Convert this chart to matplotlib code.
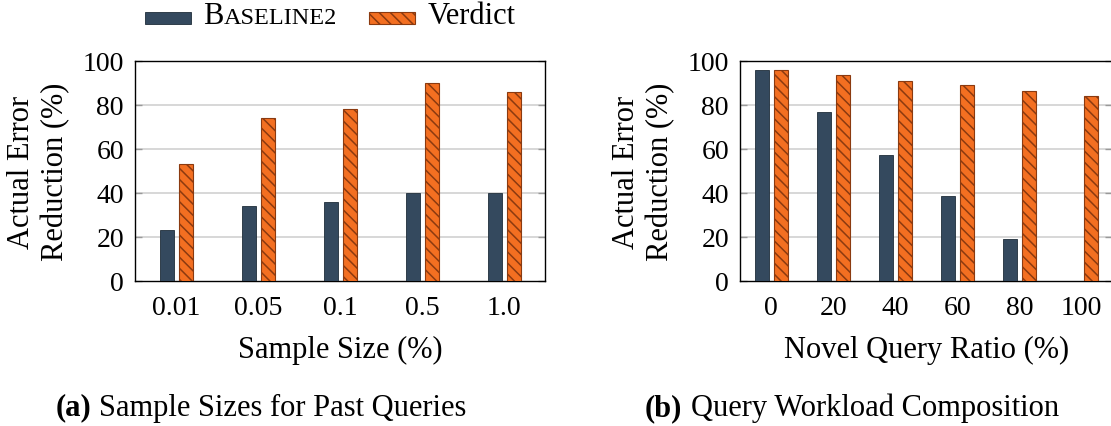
import numpy as np
import matplotlib
matplotlib.use('Agg')
import matplotlib.pyplot as plt
from matplotlib.patches import Rectangle
from matplotlib.offsetbox import AnchoredOffsetbox, HPacker, DrawingArea, TextArea

# data
sample_sizes = ['0.01', '0.05', '0.1', '0.5', '1.0']
baseline_a = [23, 34, 36, 40, 40]
verdict_a = [53, 74, 78, 90, 86]

novel_ratio = ['0', '20', '40', '60', '80', '100']
baseline_b = [96, 77, 57.5, 38.5, 19, 0]
verdict_b = [96, 93.5, 91, 89, 86.5, 84]

BLUE = '#34495e'
BLUE_EDGE = '#1f2d3a'
ORANGE = '#f36f21'
ORANGE_EDGE = '#8b3a10'
FONT = 'Liberation Serif'
TICK_FS = 20
FS = 22

plt.rcParams['font.family'] = FONT
plt.rcParams['hatch.linewidth'] = 1.1
plt.rcParams['hatch.color'] = 'black'

fig = plt.figure(figsize=(11.11, 4.27), dpi=100)
ax1 = fig.add_axes([135 / 1111, 1 - 282 / 427, 410 / 1111, 220 / 427])
ax2 = fig.add_axes([740 / 1111, 1 - 282 / 427, 372.5 / 1111, 220 / 427])


def draw_panel(ax, labels, base, verd, unit_px, xlabel, ylabel_x):
    x = np.arange(len(labels))
    w = 14 / unit_px
    gap = 5 / unit_px
    ax.bar(x - (w + gap) / 2, base, width=w, color=BLUE, edgecolor=BLUE_EDGE,
           linewidth=0.6, zorder=3)
    ax.bar(x + (w + gap) / 2, verd, width=w, color=ORANGE, edgecolor=ORANGE_EDGE,
           linewidth=0.8, hatch='\\\\\\', zorder=3)
    ax.set_xlim(-0.5, len(labels) - 0.5)
    ax.set_ylim(0, 100)
    ax.set_xticks(x)
    ax.set_xticklabels(labels)
    ax.set_yticks([0, 20, 40, 60, 80, 100])
    ax.tick_params(axis='x', length=0, pad=10, labelsize=TICK_FS)
    ax.tick_params(axis='y', direction='in', length=5, width=1, color='#999999',
                   right=True, pad=8, labelsize=TICK_FS)
    for y in [20, 40, 60, 80]:
        ax.axhline(y, color='#d4d4d4', linewidth=1.3, zorder=1)
    for sp in ax.spines.values():
        sp.set_linewidth(1)
    ax.set_xlabel(xlabel, fontsize=FS, labelpad=11)
    ax.set_ylabel('Actual Error\nReduction (%)', fontsize=FS, linespacing=1.2)
    ax.yaxis.set_label_coords(ylabel_x, 0.5)


draw_panel(ax1, sample_sizes, baseline_a, verdict_a, 82, 'Sample Size (%)', -0.158)
draw_panel(ax2, novel_ratio, baseline_b, verdict_b, 62, 'Novel Query Ratio (%)', -0.174)

# captions
cap_a = HPacker(children=[TextArea('(a)', textprops=dict(size=FS, weight='bold', family=FONT)),
                          TextArea('Sample Sizes for Past Queries', textprops=dict(size=FS, family=FONT))],
                align='baseline', pad=0, sep=6)
cap_b = HPacker(children=[TextArea('(b)', textprops=dict(size=FS, weight='bold', family=FONT)),
                          TextArea('Query Workload Composition', textprops=dict(size=FS, family=FONT))],
                align='baseline', pad=0, sep=6)
fig.add_artist(AnchoredOffsetbox(loc='center', child=cap_a, pad=0, borderpad=0, frameon=False,
                                 bbox_to_anchor=(261 / 1111, 1 - 408 / 427), bbox_transform=fig.transFigure))
fig.add_artist(AnchoredOffsetbox(loc='center', child=cap_b, pad=0, borderpad=0, frameon=False,
                                 bbox_to_anchor=(852 / 1111, 1 - 408 / 427), bbox_transform=fig.transFigure))

# legend with small caps label
da1 = DrawingArea(33, 8, 0, 0)
da1.add_artist(Rectangle((0, 0), 33, 8, facecolor=BLUE, edgecolor=BLUE_EDGE, linewidth=0.6))
da2 = DrawingArea(33, 8, 0, 0)
da2.add_artist(Rectangle((0, 0), 33, 8, facecolor=ORANGE, edgecolor=ORANGE_EDGE, linewidth=0.8,
                         hatch='\\\\\\'))
lab1 = HPacker(children=[TextArea('B', textprops=dict(size=FS, family=FONT)),
                         TextArea('ASELINE2', textprops=dict(size=17.5, family=FONT))],
               align='baseline', pad=0, sep=0)
row = HPacker(children=[da1, lab1, TextArea('  '), da2,
                        TextArea('Verdict', textprops=dict(size=FS, family=FONT))],
              align='baseline', pad=0, sep=9)
fig.add_artist(AnchoredOffsetbox(loc='center left', child=row, pad=0, borderpad=0, frameon=False,
                                 bbox_to_anchor=(145 / 1111, 1 - 17 / 427), bbox_transform=fig.transFigure))

fig.savefig('out.png', dpi=100)
